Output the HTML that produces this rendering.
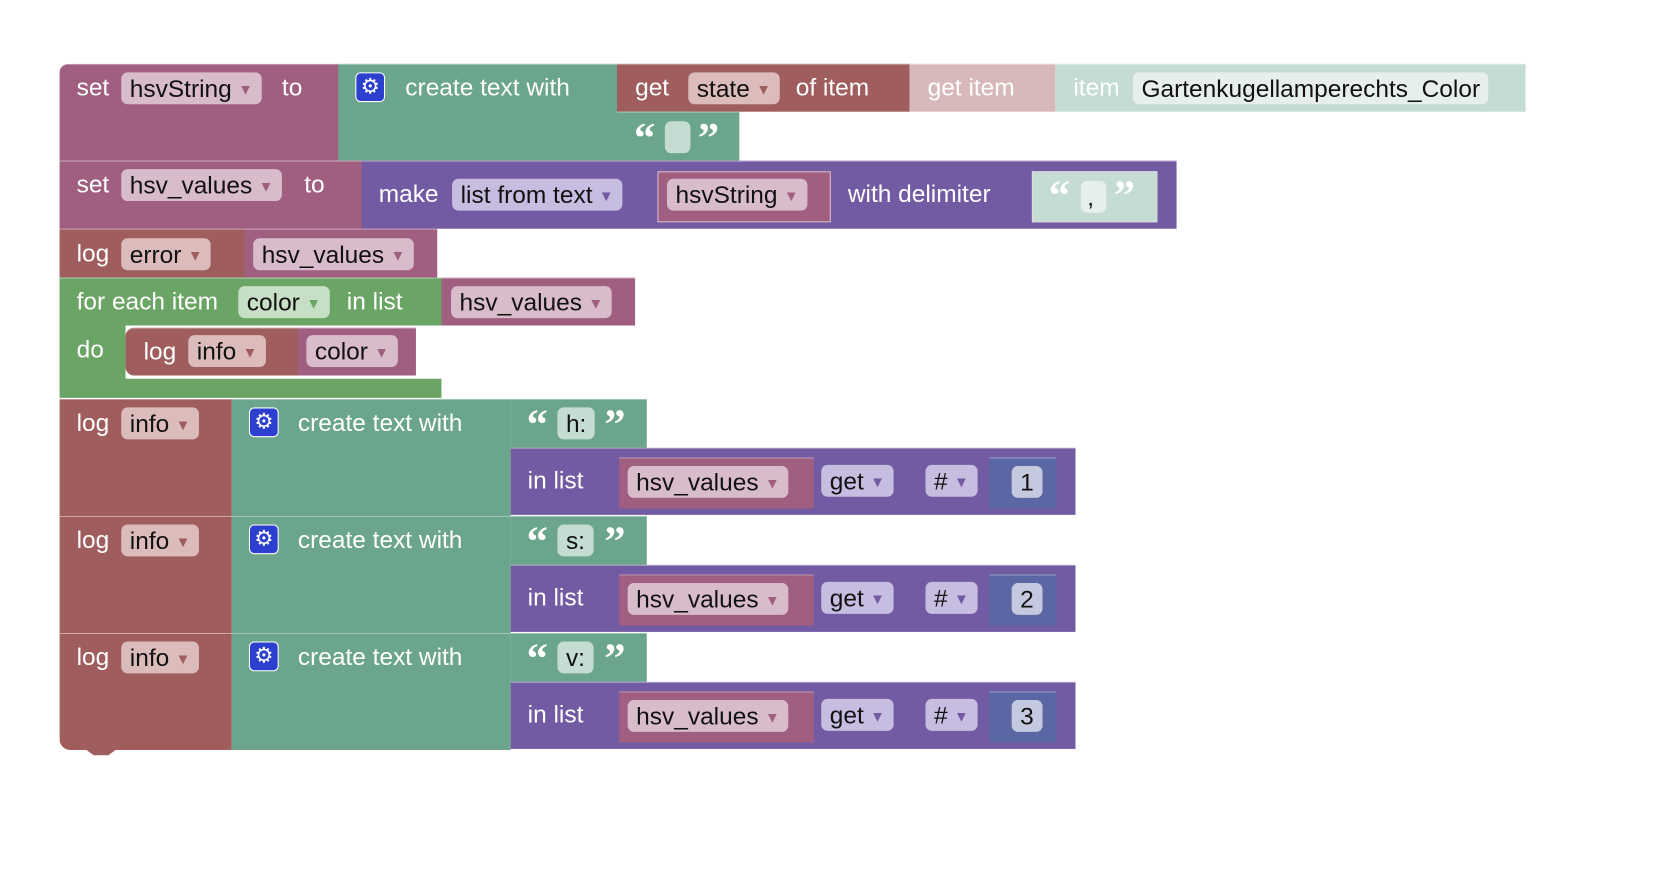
<!DOCTYPE html>
<html><head><meta charset="utf-8"><style>
html,body{margin:0;padding:0;background:#fff;width:1668px;height:882px;overflow:hidden}
#w{position:absolute;left:0;top:0;width:1568px;height:829px;transform:scale(1.0638);transform-origin:0 0;font-family:"Liberation Sans",Arial,sans-serif}
.b{position:absolute;box-sizing:border-box;border-top:1px solid rgba(255,255,255,.35)}
.t{position:absolute;color:#fff;font-size:23px;line-height:30px;white-space:nowrap}
.q{position:absolute;color:#fff;font-size:40px;font-weight:bold;line-height:40px;white-space:nowrap;font-family:"Liberation Serif",serif}
.p{position:absolute;height:30px;line-height:30px;border-radius:6px;font-size:23px;color:#111;padding:0 8px;white-space:nowrap;box-sizing:border-box}
.p i{font-style:normal;font-size:14px;margin-left:6px;position:relative;top:-2px}
.m{background:#a05f81}.r{background:#9f5e5d}.g{background:#6ba58b}.u{background:#735ba3}.l{background:#6ba565}
.gear{position:absolute;width:26px;height:26px;background:#2c3fcf;border-radius:5px;border:1px solid #fff;color:#fff;font-size:20px;line-height:26px;text-align:center}
</style></head><body><div id="w">
<!-- row1 -->
<div class="b m" style="left:56px;top:60px;width:263px;height:91px;border-radius:8px 0 0 0"></div>
<div class="t" style="left:72px;top:67px">set</div>
<div class="p" style="left:114px;top:68px;background:#d9bccb">hsvString<i style="color:#a05f81">▼</i></div>
<div class="t" style="left:265px;top:67px">to</div>
<div class="b g" style="left:318px;top:60px;width:262px;height:91px"></div>
<div class="gear" style="left:334px;top:68px">⚙</div>
<div class="t" style="left:381px;top:67px">create text with</div>
<div class="b r" style="left:580px;top:60px;width:275px;height:45px"></div>
<div class="t" style="left:597px;top:67px">get</div>
<div class="p" style="left:647px;top:68px;background:#dbbcbb">state<i style="color:#9f5e5d">▼</i></div>
<div class="t" style="left:748px;top:67px">of item</div>
<div class="b" style="left:855px;top:60px;width:137px;height:45px;background:#d7b9ba"></div>
<div class="t" style="left:872px;top:67px">get item</div>
<div class="b" style="left:992px;top:60px;width:442px;height:45px;background:#c5dcd3"></div>
<div class="t" style="left:1009px;top:67px">item</div>
<div class="p" style="left:1065px;top:68px;background:#e7efec">Gartenkugellamperechts_Color</div>
<div class="b g" style="left:580px;top:105px;width:115px;height:46px"></div>
<div class="q" style="left:596px;top:110px">“</div>
<div class="p" style="left:625px;top:114px;width:24px;background:#c5dcd3"></div>
<div class="q" style="left:656px;top:110px">”</div>
<!-- row2 -->
<div class="b m" style="left:56px;top:151px;width:286px;height:64px"></div>
<div class="t" style="left:72px;top:158px">set</div>
<div class="p" style="left:114px;top:159px;background:#d9bccb">hsv_values<i style="color:#a05f81">▼</i></div>
<div class="t" style="left:286px;top:158px">to</div>
<div class="b u" style="left:340px;top:151px;width:766px;height:64px"></div>
<div class="t" style="left:356px;top:167px">make</div>
<div class="p" style="left:425px;top:168px;background:#c6bde0">list from text<i style="color:#735ba3">▼</i></div>
<div class="b m" style="left:618px;top:161px;width:163px;height:48px;border:1px solid #d9bccb"></div>
<div class="p" style="left:627px;top:168px;background:#d9bccb">hsvString<i style="color:#a05f81">▼</i></div>
<div class="t" style="left:797px;top:167px">with delimiter</div>
<div class="b" style="left:970px;top:161px;width:118px;height:48px;background:#c5dcd3;border:1px solid #ddd"></div>
<div class="q" style="left:986px;top:164px">“</div>
<div class="p" style="left:1016px;top:170px;width:24px;background:#e7efec;padding:0 6px">,</div>
<div class="q" style="left:1047px;top:164px">”</div>
<!-- row3 -->
<div class="b r" style="left:56px;top:215px;width:175px;height:46px"></div>
<div class="t" style="left:72px;top:223px">log</div>
<div class="p" style="left:114px;top:224px;background:#dbbcbb">error<i style="color:#9f5e5d">▼</i></div>
<div class="b m" style="left:230px;top:215px;width:181px;height:46px"></div>
<div class="p" style="left:238px;top:224px;background:#d9bccb">hsv_values<i style="color:#a05f81">▼</i></div>
<!-- row4 loop -->
<div class="b l" style="left:56px;top:261px;width:360px;height:45px"></div>
<div class="b l" style="left:56px;top:305px;width:62px;height:52px;border:none"></div>
<div class="b l" style="left:56px;top:356px;width:359px;height:18px;border:none"></div>
<div class="t" style="left:72px;top:268px">for each item</div>
<div class="p" style="left:224px;top:269px;background:#c7e0c5">color<i style="color:#6ba565">▼</i></div>
<div class="t" style="left:326px;top:268px">in list</div>
<div class="b m" style="left:415px;top:261px;width:182px;height:45px"></div>
<div class="p" style="left:424px;top:269px;background:#d9bccb">hsv_values<i style="color:#a05f81">▼</i></div>
<div class="t" style="left:72px;top:313px">do</div>
<div class="b r" style="left:118px;top:308px;width:163px;height:45px;border-radius:8px 0 0 8px"></div>
<div class="t" style="left:135px;top:315px">log</div>
<div class="p" style="left:177px;top:315px;background:#dbbcbb">info<i style="color:#9f5e5d">▼</i></div>
<div class="b m" style="left:280px;top:308px;width:111px;height:45px"></div>
<div class="p" style="left:288px;top:315px;background:#d9bccb">color<i style="color:#a05f81">▼</i></div>
<!-- rows 5-7 -->
<div class="b r" style="left:56px;top:375px;width:162px;height:330px;border-radius:0 0 0 10px"></div>
<div class="b" style="left:56px;top:485px;width:162px;height:1px;background:#b47a79"></div>
<div class="b" style="left:56px;top:595px;width:162px;height:1px;background:#b47a79"></div>

<div class="b g" style="left:218px;top:375px;width:262px;height:110px"></div>
<div class="b g" style="left:218px;top:485px;width:262px;height:110px"></div>
<div class="b g" style="left:218px;top:595px;width:262px;height:110px"></div>

<div class="t" style="left:72px;top:382px">log</div>
<div class="p" style="left:114px;top:383px;background:#dbbcbb">info<i style="color:#9f5e5d">▼</i></div>
<div class="gear" style="left:234px;top:383px">⚙</div>
<div class="t" style="left:280px;top:382px">create text with</div>
<div class="b g" style="left:480px;top:375px;width:128px;height:46px"></div>
<div class="q" style="left:495px;top:379px">“</div>
<div class="p" style="left:524px;top:383px;background:#c5dcd3">h:</div>
<div class="q" style="left:568px;top:379px">”</div>
<div class="b u" style="left:480px;top:421px;width:531px;height:63px"></div>
<div class="t" style="left:496px;top:436px">in list</div>
<div class="b m" style="left:582px;top:430px;width:183px;height:48px"></div>
<div class="p" style="left:590px;top:438px;background:#d9bccb">hsv_values<i style="color:#a05f81">▼</i></div>
<div class="p" style="left:772px;top:437px;background:#c6bde0">get<i style="color:#735ba3">▼</i></div>
<div class="p" style="left:870px;top:437px;background:#c6bde0">#<i style="color:#735ba3">▼</i></div>
<div class="b" style="left:930px;top:430px;width:63px;height:48px;background:#5b67a5"></div>
<div class="p" style="left:951px;top:438px;background:#c5c9e0">1</div>

<div class="t" style="left:72px;top:492px">log</div>
<div class="p" style="left:114px;top:493px;background:#dbbcbb">info<i style="color:#9f5e5d">▼</i></div>
<div class="gear" style="left:234px;top:493px">⚙</div>
<div class="t" style="left:280px;top:492px">create text with</div>
<div class="b g" style="left:480px;top:485px;width:128px;height:46px"></div>
<div class="q" style="left:495px;top:489px">“</div>
<div class="p" style="left:524px;top:493px;background:#c5dcd3">s:</div>
<div class="q" style="left:568px;top:489px">”</div>
<div class="b u" style="left:480px;top:531px;width:531px;height:63px"></div>
<div class="t" style="left:496px;top:546px">in list</div>
<div class="b m" style="left:582px;top:540px;width:183px;height:48px"></div>
<div class="p" style="left:590px;top:548px;background:#d9bccb">hsv_values<i style="color:#a05f81">▼</i></div>
<div class="p" style="left:772px;top:547px;background:#c6bde0">get<i style="color:#735ba3">▼</i></div>
<div class="p" style="left:870px;top:547px;background:#c6bde0">#<i style="color:#735ba3">▼</i></div>
<div class="b" style="left:930px;top:540px;width:63px;height:48px;background:#5b67a5"></div>
<div class="p" style="left:951px;top:548px;background:#c5c9e0">2</div>

<div class="t" style="left:72px;top:602px">log</div>
<div class="p" style="left:114px;top:603px;background:#dbbcbb">info<i style="color:#9f5e5d">▼</i></div>
<div class="gear" style="left:234px;top:603px">⚙</div>
<div class="t" style="left:280px;top:602px">create text with</div>
<div class="b g" style="left:480px;top:595px;width:128px;height:46px"></div>
<div class="q" style="left:495px;top:599px">“</div>
<div class="p" style="left:524px;top:603px;background:#c5dcd3">v:</div>
<div class="q" style="left:568px;top:599px">”</div>
<div class="b u" style="left:480px;top:641px;width:531px;height:63px"></div>
<div class="t" style="left:496px;top:656px">in list</div>
<div class="b m" style="left:582px;top:650px;width:183px;height:48px"></div>
<div class="p" style="left:590px;top:658px;background:#d9bccb">hsv_values<i style="color:#a05f81">▼</i></div>
<div class="p" style="left:772px;top:657px;background:#c6bde0">get<i style="color:#735ba3">▼</i></div>
<div class="p" style="left:870px;top:657px;background:#c6bde0">#<i style="color:#735ba3">▼</i></div>
<div class="b" style="left:930px;top:650px;width:63px;height:48px;background:#5b67a5"></div>
<div class="p" style="left:951px;top:658px;background:#c5c9e0">3</div>
<svg style="position:absolute;left:80px;top:704px" width="30" height="10"><path d="M0 0 L8 6 L22 6 L30 0Z" fill="#9f5e5d"/></svg>
</div></body></html>
